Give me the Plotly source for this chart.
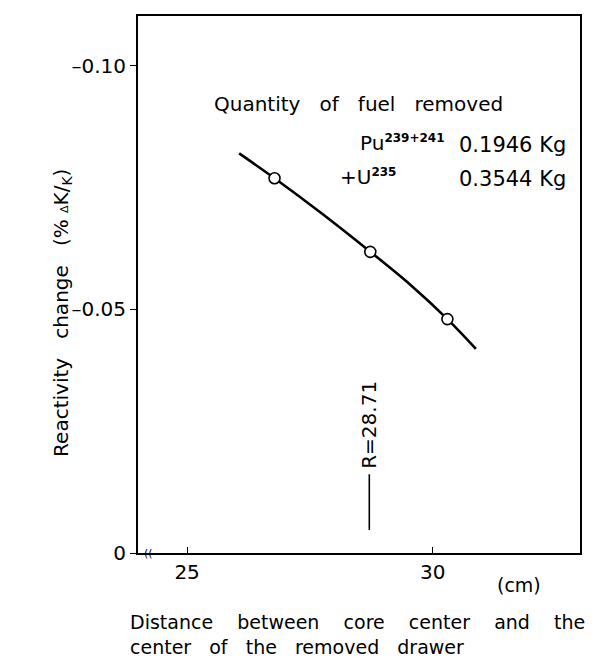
import plotly.graph_objects as go

# ---- data ----
point_x = [26.78, 28.73, 30.30]          # cm
point_y = [-0.0769, -0.0618, -0.0480]    # % dK/K
curve_x = [26.06, 26.78, 27.75, 28.73, 29.55, 30.30, 30.88]
curve_y = [-0.0820, -0.0769, -0.0696, -0.0618, -0.0550, -0.0480, -0.0419]
R_value = 28.71
x_ticks = [25, 30]
y_ticks = [0, -0.05, -0.10]
y_ticklabels = ["0", "\u20130.05", "\u20130.10"]

FONT = "DejaVu Sans"
NB = "\u00a0"

# page has an 8px body margin: figure is drawn 8px right/down
OFF = 8
W, H = 612 - OFF, 659 - OFF
# plot area in page pixels
L, R, T, B = 138, 580, 14, 553

def px(x):
    return (x - L) / (R - L)

def py(y):
    return (B - y) / (B - T)

fig = go.Figure()
fig.add_trace(go.Scatter(x=curve_x, y=curve_y, mode="lines",
                         line=dict(color="black", width=2.6, shape="spline"),
                         hoverinfo="skip", showlegend=False))
fig.add_trace(go.Scatter(x=point_x, y=point_y, mode="markers",
                         marker=dict(symbol="circle", size=11, color="white",
                                     line=dict(color="black", width=1.6)),
                         showlegend=False))

fig.update_layout(
    width=W, height=H,
    margin=dict(l=L - OFF, r=W - (R - OFF), t=T - OFF, b=H - (B - OFF)),
    paper_bgcolor="white", plot_bgcolor="white",
    font=dict(family=FONT, size=20, color="black"),
    xaxis=dict(range=[24, 33], tickvals=x_ticks, ticktext=[str(v) for v in x_ticks],
               ticks="inside", ticklen=6, tickwidth=1.2, tickcolor="black",
               showline=True, linecolor="black", linewidth=2, mirror=True,
               showgrid=False, zeroline=False, tickfont=dict(size=20)),
    yaxis=dict(range=[0, -0.1102], tickvals=y_ticks, ticktext=y_ticklabels,
               ticks="outside", ticklen=6, tickwidth=1.2, tickcolor="black",
               showline=True, linecolor="black", linewidth=2, mirror=True,
               showgrid=False, zeroline=False, tickfont=dict(size=20)),
)

ann = []
def text(x, y, s, size=20, xanchor="center", yanchor="middle", angle=0, xref="paper"):
    ann.append(dict(x=px(x) if xref == "paper" else x, y=py(y), xref=xref, yref="paper",
                    text=s, showarrow=False, xanchor=xanchor, yanchor=yanchor,
                    textangle=angle, font=dict(size=size, family=FONT)))

sp = lambda n: NB * n
text(62, 312, "Reactivity" + sp(3) + "change" + sp(3) +
     "(%" + NB + "<span style='font-size:11px'>\u0394</span>K/<sub>K</sub>)",
     size=20, angle=-90)
text(212, 102, "Quantity" + sp(3) + "of" + sp(3) + "fuel" + sp(3) + "removed",
     size=20, xanchor="left")
text(358, 141, "Pu<sup><span style='font-size:12px'><b>239+241</b></span></sup>",
     size=20, xanchor="left")
text(568, 143, "0.1946" + NB + "Kg", size=21, xanchor="right")
text(338, 176, "+U<sup><span style='font-size:12px'><b>235</b></span></sup>",
     size=20, xanchor="left")
text(568, 178, "0.3544" + NB + "Kg", size=21, xanchor="right")
text(519, 585, "(cm)", size=19)
text(128, 622, "Distance" + sp(4) + "between" + sp(4) + "core" + sp(4) + "center" + sp(4) +
     "and" + sp(4) + "the", size=19, xanchor="left")
text(128, 647, "center" + sp(3) + "of" + sp(3) + "the" + sp(3) + "removed" + sp(3) + "drawer",
     size=19, xanchor="left")
text(148, 553, "((", size=11)
# R label, rotated (sits just above the marker line)
text(R_value, 424, "R=28.71", size=20, angle=-90, xref="x")
fig.update_layout(annotations=ann)

fig.add_shape(type="line", x0=R_value, x1=R_value, xref="x", yref="paper",
              y0=py(474), y1=py(530), line=dict(color="black", width=1.6))

fig.write_html("out.html")
